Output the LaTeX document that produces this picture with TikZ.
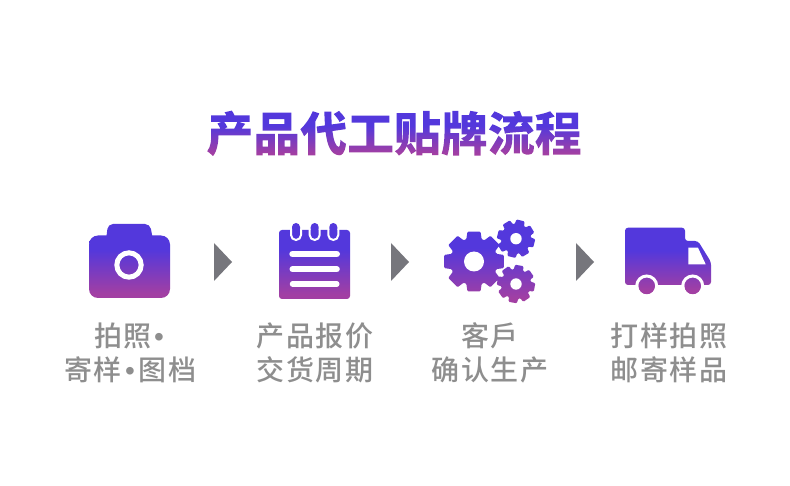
\documentclass[tikz,border=0pt]{standalone}
\usepackage{fontspec}
\newfontfamily\titlefont{Noto Sans CJK SC}
\newfontfamily\labfont[LetterSpace=5]{Noto Sans CJK SC Medium}
\newfontfamily\dotfont{Liberation Sans}
\definecolor{gtop}{HTML}{5338DC}
\definecolor{gbot}{HTML}{A23FA3}
\definecolor{labgray}{HTML}{8E8E8E}
\definecolor{arrowgray}{HTML}{76767C}
\pgfdeclareverticalshading{gradv}{100bp}{color(0bp)=(gbot); color(28bp)=(gbot); color(58bp)=(gtop); color(100bp)=(gtop)}
\tikzset{
  grad/.style={shading=gradv,draw=none},
  lab/.style={text=labgray,inner sep=0pt,anchor=base,font=\labfont\fontsize{28}{28}\selectfont},
  labw/.style={lab,anchor=base west},
  tri/.style={fill=arrowgray,draw=none},
  cutline/.style={draw=white,line cap=round},
}
\newcommand\labdot[1]{\makebox[#1pt][c]{\dotfont •}}
\newcommand\gradtitle[1]{%
  \setbox0\hbox{\titlefont\bfseries\fontsize{46.9}{47}\selectfont #1}%
  \leavevmode\special{pdf:code q 7 Tr}\copy0\special{pdf:code 0 Tr}%
  \llap{\hbox to \wd0{\raise-5pt\hbox{\tikz[x=1pt,y=1pt]\shade[grad] (0,0) rectangle (\wd0/1pt,46);}\hss}}%
  \special{pdf:code Q}%
}
\newcommand\gearshape[5]{%
  ({#1+#4*cos(#5-19)},{#2+#4*sin(#5-19)})
  \foreach \k in {0,...,7}{
    -- ({#1+#4*cos(#5+45*\k-19)},{#2+#4*sin(#5+45*\k-19)})
    -- ({#1+#3*cos(#5+45*\k-12.5)},{#2+#3*sin(#5+45*\k-12.5)})
    -- ({#1+#3*cos(#5+45*\k+12.5)},{#2+#3*sin(#5+45*\k+12.5)})
    -- ({#1+#4*cos(#5+45*\k+19)},{#2+#4*sin(#5+45*\k+19)})
  } -- cycle}
\begin{document}
\begin{tikzpicture}[x=1pt,y=-1pt]
\useasboundingbox (0,0) rectangle (790,486);
\fill[white] (0,0) rectangle (790,486);
% title
\node[inner sep=0pt,anchor=base] (title) at (394,151) {\gradtitle{产品代工贴牌流程}};
% camera
\shade[grad,rounded corners=9pt] (89,298) -- (89,235.5) -- (170,235.5) -- (170,298) -- cycle
  [sharp corners] (106,240) [rounded corners=5pt] -- (108,224) -- (150,224) -- (153,240) -- cycle;
\draw[white,line width=5pt] (129,265) circle[radius=12.2];
% notebook
\shade[grad] [rounded corners=3pt] (279,299) -- (279,230) -- (350,230) -- (350,299) -- cycle
  [sharp corners]
  (292,227) arc[start angle=180,end angle=360,radius=4] -- (300,235) arc[start angle=0,end angle=180,radius=4] -- cycle
  (310.7,227) arc[start angle=180,end angle=360,radius=4] -- (318.7,235) arc[start angle=0,end angle=180,radius=4] -- cycle
  (329.3,227) arc[start angle=180,end angle=360,radius=4] -- (337.3,235) arc[start angle=0,end angle=180,radius=4] -- cycle;
\draw[white,line width=2pt] (291,229) -- (291,235) arc[start angle=180,end angle=0,radius=5] -- (301,229)
  (309.7,229) -- (309.7,235) arc[start angle=180,end angle=0,radius=5] -- (319.7,229)
  (328.3,229) -- (328.3,235) arc[start angle=180,end angle=0,radius=5] -- (338.3,229);
\draw[cutline,line width=6.4pt] (292.5,254) -- (336.8,254);
\draw[cutline,line width=6pt] (292.5,269.3) -- (336.8,269.3);
\draw[cutline,line width=5.4pt] (292.5,284) -- (336.8,284);
% gears
\shade[grad,rounded corners=1pt] \gearshape{474}{261.5}{30.5}{23.5}{0} \gearshape{516}{238.7}{19.3}{14.7}{14} \gearshape{516}{284}{19.3}{14.7}{10};
\fill[white] (474,261.5) circle[radius=10] (516,238.7) circle[radius=5.7] (516,284) circle[radius=5.7];
% truck
\shade[grad] [rounded corners=3pt] (625,285) -- (625,227.7) -- (685,227.7) -- (685,241) -- (698,241) -- (711,262) -- (711,285) -- cycle
  [sharp corners] (646.7,286) circle[radius=8.5] (692.7,286) circle[radius=8.5];
\draw[white,line width=3pt] (646.7,286) circle[radius=10] (692.7,286) circle[radius=10];
\fill[white] (688.3,247.7) -- (698,247.7) -- (705.7,264.3) -- (688.3,264.3) -- cycle;
% arrows
\fill[tri] (214,243) -- (232,262) -- (214,281) -- cycle;
\fill[tri] (391,243) -- (409,262) -- (391,281) -- cycle;
\fill[tri] (576,243) -- (594,262) -- (576,281) -- cycle;
% labels
\node[labw] (l1a) at (94,346) {拍照\labdot{15}};
\node[labw] (l1b) at (64,381) {寄样\labdot{17}图档};
\node[lab] (l2a) at (315,346) {产品报价};
\node[lab] (l2b) at (315,381) {交货周期};
\node[lab] (l3a) at (490,346) {客戶};
\node[lab] (l3b) at (490,381) {确认生产};
\node[lab] (l4a) at (669,346) {打样拍照};
\node[lab] (l4b) at (669,381) {邮寄样品};
\end{tikzpicture}
\end{document}
